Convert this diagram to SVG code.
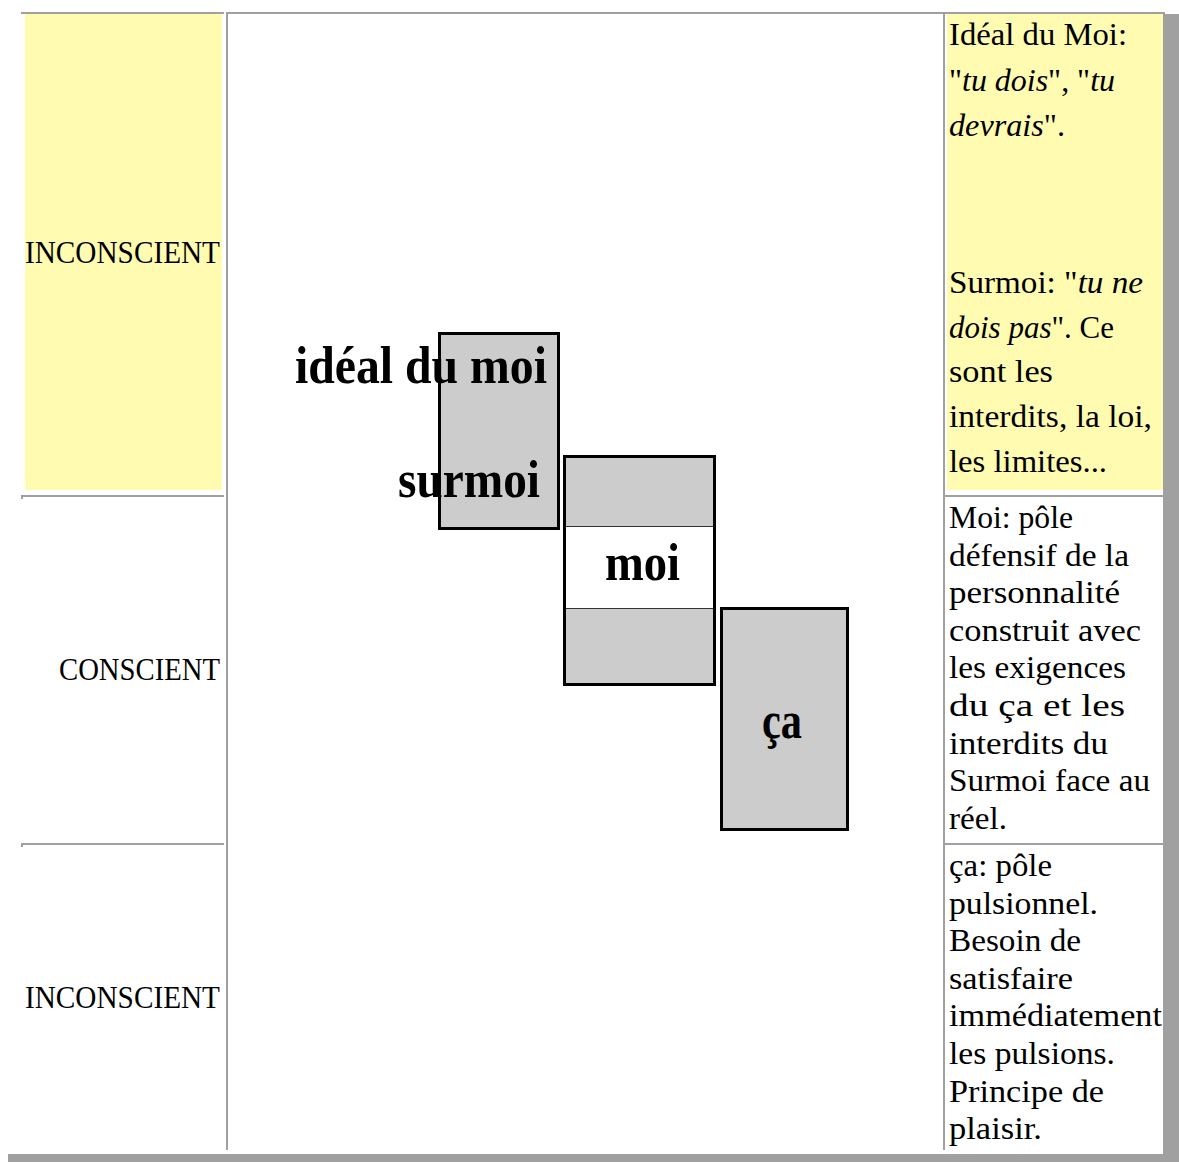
<svg xmlns="http://www.w3.org/2000/svg" width="1179" height="1162" viewBox="0 0 1179 1162">
<defs>
<style>
.line{fill:#a0a0a0}
.yel{fill:#fffbb1}
.t{font-family:"Liberation Serif","Times New Roman",serif;font-size:31px;fill:#000}
.b{font-family:"Liberation Serif","Times New Roman",serif;font-size:52px;font-weight:bold;fill:#000}
.box{fill:#cccccc;stroke:#000;stroke-width:3}
</style>
</defs>
<rect width="1179" height="1162" fill="#fff"/>
<g id="table-frame">
<rect class="line" x="21" y="12" width="203" height="2"/>
<rect class="line" x="226" y="12" width="717" height="2"/>
<rect class="line" x="943" y="12" width="222" height="2"/>
<rect class="line" x="226" y="12" width="2" height="1138"/>
<rect class="line" x="943" y="12" width="2" height="1138"/>
<rect class="line" x="21" y="495" width="203" height="2"/>
<rect class="line" x="21" y="495" width="2" height="4"/>
<rect class="line" x="21" y="843" width="203" height="2"/>
<rect class="line" x="21" y="843" width="2" height="4"/>
<rect class="line" x="943" y="495" width="222" height="2"/>
<rect class="line" x="943" y="843" width="222" height="2"/>
<rect class="line" x="1163" y="14" width="16" height="1148"/>
<rect class="line" x="8" y="1154" width="1171" height="8"/>
</g>
<g id="cell-left-1">
<rect class="yel" x="25" y="14" width="197" height="476"/>
<text class="t" x="25" y="263" textLength="195" lengthAdjust="spacingAndGlyphs">INCONSCIENT</text>
</g>
<g id="cell-left-2">
<text class="t" x="59" y="680" textLength="161" lengthAdjust="spacingAndGlyphs">CONSCIENT</text>
</g>
<g id="cell-left-3">
<text class="t" x="25" y="1008" textLength="195" lengthAdjust="spacingAndGlyphs">INCONSCIENT</text>
</g>
<g id="cell-right-1">
<rect class="yel" x="947" y="14" width="216" height="476"/>
<text class="t" x="949" y="45" textLength="178" lengthAdjust="spacingAndGlyphs">Idéal du Moi:</text>
<text class="t" x="949" y="91" textLength="166" lengthAdjust="spacingAndGlyphs">"<tspan font-style="italic">tu dois</tspan>", "<tspan font-style="italic">tu</tspan></text>
<text class="t" x="949" y="136" textLength="116" lengthAdjust="spacingAndGlyphs"><tspan font-style="italic">devrais</tspan>".</text>
<text class="t" x="949" y="293" textLength="194" lengthAdjust="spacingAndGlyphs">Surmoi: "<tspan font-style="italic">tu ne</tspan></text>
<text class="t" x="949" y="338" textLength="165" lengthAdjust="spacingAndGlyphs"><tspan font-style="italic">dois pas</tspan>". Ce</text>
<text class="t" x="949" y="382" textLength="104" lengthAdjust="spacingAndGlyphs">sont les</text>
<text class="t" x="949" y="427" textLength="203" lengthAdjust="spacingAndGlyphs">interdits, la loi,</text>
<text class="t" x="949" y="472" textLength="158" lengthAdjust="spacingAndGlyphs">les limites...</text>
</g>
<g id="cell-right-2">
<text class="t" x="949" y="528" textLength="124" lengthAdjust="spacingAndGlyphs">Moi: pôle</text>
<text class="t" x="949" y="565.6" textLength="180" lengthAdjust="spacingAndGlyphs">défensif de la</text>
<text class="t" x="949" y="603.2" textLength="171" lengthAdjust="spacingAndGlyphs">personnalité</text>
<text class="t" x="949" y="640.8" textLength="192" lengthAdjust="spacingAndGlyphs">construit avec</text>
<text class="t" x="949" y="678.4" textLength="177" lengthAdjust="spacingAndGlyphs">les exigences</text>
<text class="t" x="949" y="716" textLength="176" lengthAdjust="spacingAndGlyphs">du ça et les</text>
<text class="t" x="949" y="753.6" textLength="159" lengthAdjust="spacingAndGlyphs">interdits du</text>
<text class="t" x="949" y="791.2" textLength="201" lengthAdjust="spacingAndGlyphs">Surmoi face au</text>
<text class="t" x="949" y="828.8" textLength="58" lengthAdjust="spacingAndGlyphs">réel.</text>
</g>
<g id="cell-right-3">
<text class="t" x="949" y="876" textLength="103" lengthAdjust="spacingAndGlyphs">ça: pôle</text>
<text class="t" x="949" y="913.6" textLength="149" lengthAdjust="spacingAndGlyphs">pulsionnel.</text>
<text class="t" x="949" y="951.2" textLength="132" lengthAdjust="spacingAndGlyphs">Besoin de</text>
<text class="t" x="949" y="988.8" textLength="124" lengthAdjust="spacingAndGlyphs">satisfaire</text>
<text class="t" x="949" y="1026.4" textLength="213" lengthAdjust="spacingAndGlyphs">immédiatement</text>
<text class="t" x="949" y="1064" textLength="166" lengthAdjust="spacingAndGlyphs">les pulsions.</text>
<text class="t" x="949" y="1101.6" textLength="155" lengthAdjust="spacingAndGlyphs">Principe de</text>
<text class="t" x="949" y="1139.2" textLength="93" lengthAdjust="spacingAndGlyphs">plaisir.</text>
</g>
<g id="connectors"></g>
<g id="node-surmoi">
<rect class="box" x="439.5" y="333.5" width="119" height="195"/>
<text class="b" x="295" y="383" textLength="252" lengthAdjust="spacingAndGlyphs">idéal du moi</text>
<text class="b" x="398" y="497" textLength="142" lengthAdjust="spacingAndGlyphs">surmoi</text>
</g>
<g id="node-moi">
<rect class="box" x="564.5" y="456.5" width="150" height="228"/>
<rect x="566" y="526" width="147" height="83" fill="#fff"/>
<rect x="566" y="526" width="147" height="1" fill="#333"/>
<rect x="566" y="608" width="147" height="1" fill="#333"/>
<text class="b" x="605" y="580" textLength="75" lengthAdjust="spacingAndGlyphs">moi</text>
</g>
<g id="node-ca">
<rect class="box" x="721.5" y="608.5" width="126" height="221"/>
<text class="b" x="762" y="738" textLength="40" lengthAdjust="spacingAndGlyphs">ça</text>
</g>
</svg>
